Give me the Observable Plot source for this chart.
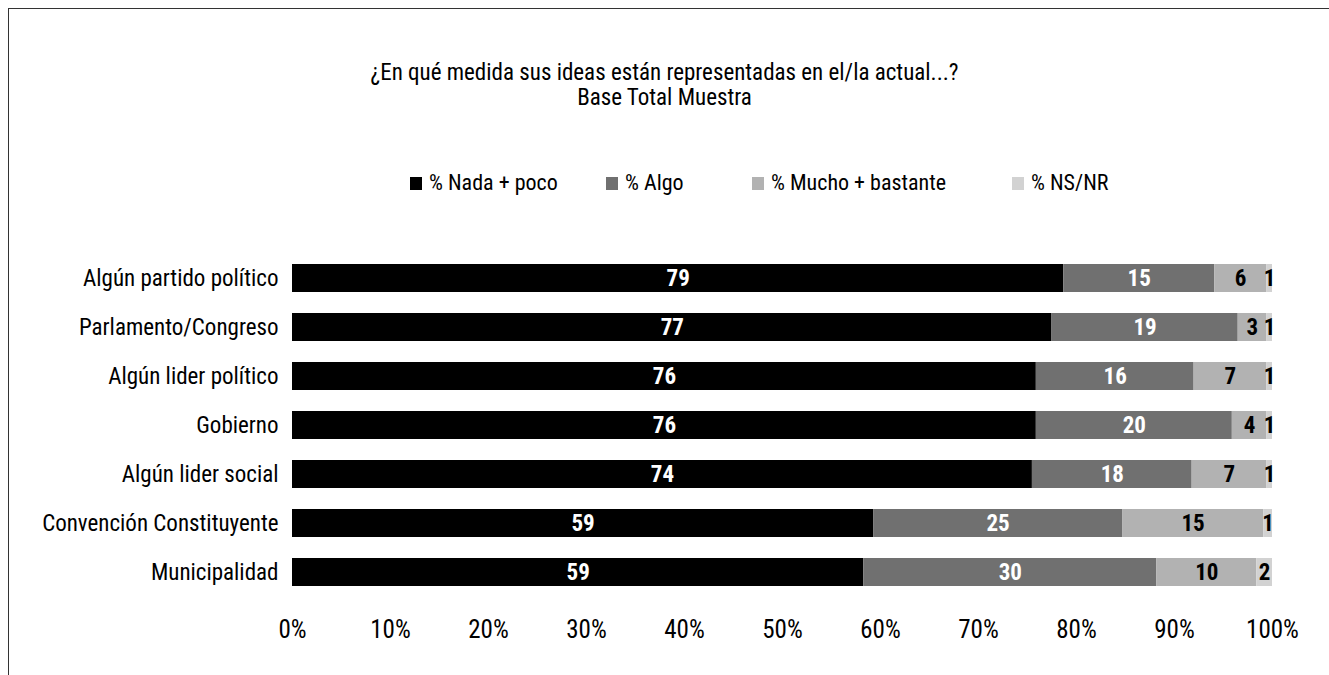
<!DOCTYPE html>
<html>
<head>
<meta charset="utf-8">
<script src="https://cdn.jsdelivr.net/npm/d3@7"></script>
<script src="https://cdn.jsdelivr.net/npm/@observablehq/plot@0.6"></script>
<style>
  html, body { margin: 0; padding: 0; background: #fff; }
  body { width: 1329px; height: 675px; overflow: hidden; position: relative;
         font-family: "Liberation Sans Narrow", "Arial Narrow", "Roboto Condensed", "DejaVu Sans Condensed", sans-serif; color: #000; }
  #frame { position: absolute; left: 8px; top: 8px; width: 1400px; height: 700px;
           border-left: 1.5px solid #333; border-top: 1.5px solid #333; pointer-events: none; }
  #header { height: 160px; position: relative; }
  #title { position: absolute; top: 60px; left: 0; width: 1329px; text-align: center; font-size: 23px; line-height: 25px; }
  #title div { height: 25px; }
  #legend { height: 50px; position: relative; }
  .item { position: absolute; top: 9px; font-size: 22px; line-height: 28px; display: flex; align-items: center; }
  .sw { width: 12px; height: 13px; display: inline-block; margin-right: 7px; }
</style>
</head>
<body>
<div id="frame"></div>
<div id="header"><div id="title"><div>¿En qué medida sus ideas están representadas en el/la actual...?</div><div>Base Total Muestra</div></div></div>
<div id="legend"></div>
<div id="chart"></div>
<script>
const categories = ["Algún partido político", "Parlamento/Congreso", "Algún lider político", "Gobierno", "Algún lider social", "Convención Constituyente", "Municipalidad"];
const series = ["% Nada + poco", "% Algo", "% Mucho + bastante", "% NS/NR"];
const colors = ["#000000", "#707070", "#b2b2b2", "#d2d2d2"];
// bar lengths
const nada  = [78.7, 77.5, 75.9, 75.9, 75.5, 59.3, 58.3];
const algo  = [15.4, 19.0, 16.1, 20.0, 16.3, 25.4, 29.9];
const mucho = [5.3, 2.9, 7.4, 3.5, 7.6, 14.4, 10.2];
const nsnr  = [0.6, 0.6, 0.6, 0.6, 0.6, 0.9, 1.6];
// printed data labels
const labNada  = [79, 77, 76, 76, 74, 59, 59];
const labAlgo  = [15, 19, 16, 20, 18, 25, 30];
const labMucho = [6, 3, 7, 4, 7, 15, 10];
const labNs    = [1, 1, 1, 1, 1, 1, 2];
const xTicks = [0, 10, 20, 30, 40, 50, 60, 70, 80, 90, 100];

const vals = [nada, algo, mucho, nsnr];
const labs = [labNada, labAlgo, labMucho, labNs];
const labelColor = ["#fff", "#fff", "#000", "#000"];
const data = [];
series.forEach((s, si) => categories.forEach((c, ci) => {
  data.push({cat: c, series: s, value: vals[si][ci], label: String(labs[si][ci]), tc: labelColor[si]});
}));

// legend
const legendPos = [410, 606, 752, 1012];
const lg = document.getElementById("legend");
series.forEach((s, i) => {
  const d = document.createElement("div");
  d.className = "item";
  d.style.left = legendPos[i] + "px";
  d.innerHTML = `<span class="sw" style="background:${colors[i]}"></span>${s}`;
  lg.appendChild(d);
});

const FONT = "'Liberation Sans Narrow', 'Arial Narrow', 'Roboto Condensed', 'DejaVu Sans Condensed', sans-serif";
const stackOpts = {x: "value", y: "cat", z: "series", order: series};
const chart = Plot.plot({
  width: 1329,
  height: 465,
  marginLeft: 292,
  marginRight: 57,
  marginTop: 32,
  marginBottom: 68,
  style: {fontFamily: FONT, fontSize: "22px", color: "#000", background: "transparent"},
  x: {domain: [0, 100], ticks: xTicks, tickFormat: d => d + "%", tickSize: 0, label: null},
  y: {domain: categories, padding: 0.43, tickSize: 0, label: null},
  color: {domain: series, range: colors},
  marks: [
    Plot.barX(data, Plot.stackX({...stackOpts, fill: "series"})),
    Plot.text(data, Plot.stackX({...stackOpts, text: "label", fill: "tc", fontWeight: "bold", fontSize: 23})),
    Plot.axisX({ticks: xTicks, tickFormat: d => d + "%", tickSize: 0, tickPadding: 13, fontSize: 25, label: null}),
    Plot.axisY({tickSize: 0, tickPadding: 14, fontSize: 23, label: null})
  ]
});
document.getElementById("chart").appendChild(chart);
</script>
</body>
</html>
